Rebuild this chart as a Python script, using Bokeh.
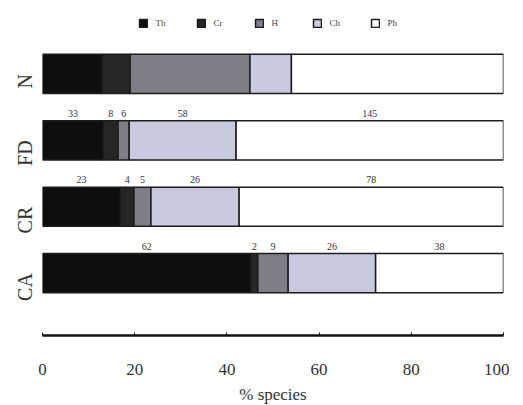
import math
from bokeh.plotting import figure
from bokeh.models import ColumnDataSource, FixedTicker, Range1d, Legend
from bokeh.core.properties import value
from bokeh.embed import file_html
from bokeh.resources import INLINE

# ---- data ----
categories = ["CA", "CR", "FD", "N"]
series = ["Th", "Cr", "H", "Ch", "Ph"]
th = [62, 23, 33, 13]
cr = [2, 4, 8, 6]
h = [9, 5, 6, 26]
ch = [26, 26, 58, 9]
ph = [38, 78, 145, 46]
show_counts = [True, True, True, False]
x_ticks = [0, 20, 40, 60, 80, 100]

colors = ["#0e0e0e", "#262626", "#7e7e86", "#c9c9e0", "#ffffff"]
FONT = "Liberation Serif"

counts = [th, cr, h, ch, ph]
ypos = list(range(len(categories)))
totals = [sum(c[i] for c in counts) for i in ypos]
pct = {s: [c[i] / totals[i] * 100 for i in ypos] for s, c in zip(series, counts)}
src = ColumnDataSource(dict(y=ypos, **pct))

p = figure(frame_width=461, frame_height=329, output_backend="svg", toolbar_location=None,
           x_range=Range1d(0, 100), y_range=Range1d(-0.94, 4.016),
           min_border_left=37, min_border_right=6, min_border_top=6,
           min_border_bottom=0)
p.outline_line_color = None
p.xgrid.visible = False
p.ygrid.visible = False

rs = p.hbar_stack(series, y="y", height=0.59, color=colors, line_color="#1c1c1c",
                  line_width=1.5, source=src)

# count labels above segments
lx, ly, lt = [], [], []
for i in ypos:
    if not show_counts[i]:
        continue
    start = 0.0
    for s, c in zip(series, counts):
        w = pct[s][i]
        lx.append(start + w / 2)
        ly.append(i + 0.295)
        lt.append(str(c[i]))
        start += w
p.text(x=lx, y=ly, text=lt, text_font=value(FONT), text_font_size="10px",
       text_align="center", text_baseline="bottom", y_offset=-4, text_color="#333333")

legend = Legend(items=[(s, [r]) for s, r in zip(series, rs)], orientation="horizontal",
                location="top_center", border_line_alpha=0, background_fill_alpha=0,
                glyph_width=10, glyph_height=10, label_text_font=FONT,
                label_text_font_size="9px", label_text_color="#444444",
                spacing=20, label_standoff=8, padding=0, margin=12)
p.add_layout(legend, "center")

# x axis
xa = p.xaxis[0]
xa.ticker = FixedTicker(ticks=x_ticks)
xa.axis_line_width = 2.5
xa.axis_line_color = "#111111"
xa.major_tick_in = 3
xa.major_tick_out = 0
xa.minor_tick_line_color = None
xa.major_label_standoff = 28
xa.major_label_text_font = FONT
xa.major_label_text_font_size = "17px"
xa.major_label_text_color = "#333333"
xa.axis_label = "% species"
xa.axis_label_text_font = FONT
xa.axis_label_text_font_size = "17px"
xa.axis_label_text_font_style = "normal"
xa.axis_label_text_color = "#333333"
xa.axis_label_standoff = 7

# y axis with category names
ya = p.yaxis[0]
ya.ticker = FixedTicker(ticks=ypos)
ya.major_label_overrides = {i: c for i, c in zip(ypos, categories)}
ya.major_label_orientation = math.pi / 2
ya.axis_line_color = None
ya.major_tick_line_color = None
ya.minor_tick_line_color = None
ya.major_label_standoff = 11
ya.major_label_text_font = FONT
ya.major_label_text_font_size = "20px"
ya.major_label_text_color = "#333333"

open("out.html", "w").write(file_html(p, INLINE))
